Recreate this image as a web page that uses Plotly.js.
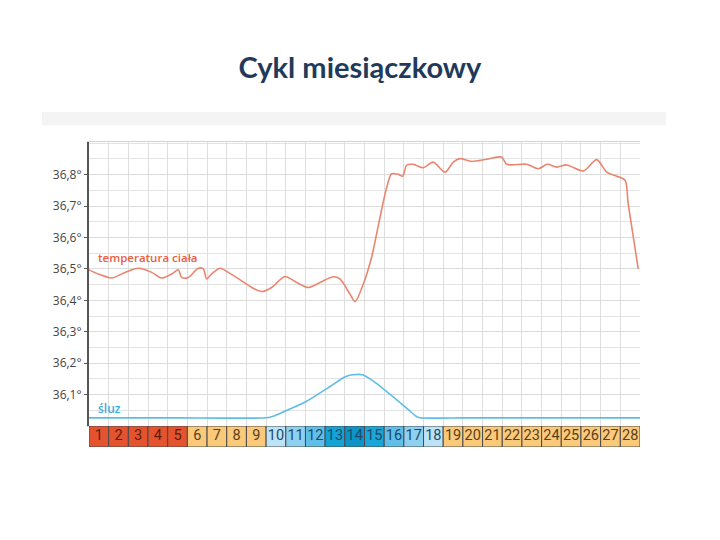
<!DOCTYPE html>
<html>
<head>
<meta charset="utf-8">
<script src="https://cdn.plot.ly/plotly-3.0.1.min.js"></script>
<style>html,body{margin:0;padding:0;background:#fff;}#chart{width:720px;height:540px;}</style>
</head>
<body>
<div id="chart"></div>
<script>
// ---- data ----
const days = [1,2,3,4,5,6,7,8,9,10,11,12,13,14,15,16,17,18,19,20,21,22,23,24,25,26,27,28];
const yTickVals = [36.1,36.2,36.3,36.4,36.5,36.6,36.7,36.8];
const yTickText = ["36,1°","36,2°","36,3°","36,4°","36,5°","36,6°","36,7°","36,8°"];

const tempX = [0,0.47,1.15,1.83,2.51,3.19,3.69,4.20,4.54,4.71,5.05,5.55,5.81,5.98,6.23,6.66,7.08,7.76,8.27,8.78,9.28,9.96,10.55,11.14,11.74,12.41,12.75,13.26,13.52,13.94,14.36,14.79,15.13,15.38,15.72,15.94,16.14,16.48,16.99,17.49,18.09,18.51,18.85,19.45,20.21,20.97,21.23,22.24,22.83,23.29,23.77,24.28,25.12,25.80,26.31,26.82,27.24,27.40,27.91];
const tempY = [36.497,36.484,36.471,36.489,36.502,36.489,36.471,36.484,36.497,36.473,36.473,36.502,36.500,36.468,36.484,36.502,36.489,36.462,36.441,36.428,36.441,36.476,36.457,36.441,36.457,36.475,36.468,36.420,36.396,36.452,36.537,36.665,36.760,36.803,36.801,36.795,36.830,36.833,36.822,36.840,36.808,36.840,36.851,36.842,36.849,36.856,36.833,36.833,36.819,36.833,36.824,36.831,36.812,36.848,36.808,36.795,36.782,36.707,36.500];

const mucusX = [0,4.5,9.03,9.36,11.06,12.08,13.0,13.4,13.9,14.45,16.14,16.6,16.82,19,22.5,28];
const mucusY = [36.026,36.026,36.026,36.031,36.079,36.119,36.156,36.163,36.163,36.143,36.057,36.032,36.026,36.026,36.026,36.026];

const tempLabel = "temperatura ciała";
const mucusLabel = "śluz";
const titleText = "Cykl miesiączkowy";

// ---- styles ----
const boxColors = ["#e4532e","#e4532e","#e4532e","#e4532e","#e4532e",
  "#fbc97a","#fbc97a","#fbc97a","#fbc97a",
  "#bde3f6","#8ed0f0","#5fbfe8","#13a3d6","#0c93c8","#1aa6d8","#5fbfe8","#8ed0f0","#bde3f6",
  "#fbc97a","#fbc97a","#fbc97a","#fbc97a","#fbc97a","#fbc97a","#fbc97a","#fbc97a","#fbc97a","#fbc97a"];
const boxTextColors = boxColors.map(c => c === "#e4532e" ? "#5b2010" : (c === "#fbc97a" ? "#5a4020" : "#1d4a68"));

const traces = [
  {
    type: "scatter", mode: "lines", x: tempX, y: tempY,
    line: {color: "#ea8670", width: 1.6, shape: "spline", smoothing: 0.8},
    hoverinfo: "skip", showlegend: false
  },
  {
    type: "scatter", mode: "lines", x: mucusX, y: mucusY,
    line: {color: "#5cbde6", width: 1.6, shape: "spline", smoothing: 0.5},
    hoverinfo: "skip", showlegend: false
  },
  {
    type: "bar", x: days.map(d => d - 0.5), y: days.map(() => 1), width: 1,
    yaxis: "y2",
    marker: {color: boxColors, line: {color: "#4a4a4a", width: 1}},
    hoverinfo: "skip", showlegend: false
  },
  {
    type: "scatter", mode: "text", x: days.map(d => d - 0.5), y: days.map(() => 0.5),
    yaxis: "y2", text: days.map(String), textposition: "middle center",
    textfont: {family: "Liberation Sans Narrow, Roboto, sans-serif", size: 14.5, color: boxTextColors},
    hoverinfo: "skip", showlegend: false, cliponaxis: false
  }
];

const layout = {
  width: 720, height: 540,
  margin: {l: 89, r: 80, t: 142, b: 93},
  paper_bgcolor: "#ffffff", plot_bgcolor: "#ffffff",
  showlegend: false,
  title: {
    text: "<b>" + titleText + "</b>",
    font: {family: "Lato, Open Sans, sans-serif", size: 29, color: "#1f3a5a"},
    x: 0.5, xref: "container", xanchor: "center",
    y: 1 - 68/540, yref: "container", yanchor: "middle"
  },
  xaxis: {
    range: [0, 28], tick0: 0, dtick: 1,
    showticklabels: false, ticks: "",
    showgrid: true, gridcolor: "#dedede", gridwidth: 1,
    zeroline: false, showline: true, linecolor: "#d3d3d3", linewidth: 1, mirror: true,
    fixedrange: true
  },
  yaxis: {
    domain: [21/305, 1],
    range: [36.0, 36.904],
    tickmode: "array", tickvals: yTickVals, ticktext: yTickText,
    ticks: "outside", ticklen: 3, tickcolor: "#555", tickwidth: 1,
    tickfont: {family: "Open Sans, sans-serif", size: 12, color: "#444444"},
    showgrid: true, gridcolor: "#dcdcdc", gridwidth: 1,
    minor: {tick0: 36.0, dtick: 0.05, showgrid: true, gridcolor: "#e3e3e3", gridwidth: 1, ticks: ""},
    zeroline: false, showline: true, linecolor: "#555555", linewidth: 2,
    fixedrange: true
  },
  yaxis2: {
    domain: [0, 21/305], range: [0, 1],
    showticklabels: false, showgrid: false, zeroline: false, ticks: "",
    fixedrange: true
  },
  bargap: 0,
  annotations: [
    {x: 0.36, y: 36.537, xref: "x", yref: "y", text: tempLabel, showarrow: false,
     xanchor: "left", yanchor: "middle",
     font: {family: "Open Sans, sans-serif", size: 11.5, weight: 600, color: "#e8603f"}},
    {x: 0.36, y: 36.057, xref: "x", yref: "y", text: mucusLabel, showarrow: false,
     xanchor: "left", yanchor: "middle",
     font: {family: "Open Sans, sans-serif", size: 12, weight: 600, color: "#3aaee0"}}
  ],
  shapes: [
    {type: "rect", xref: "paper", yref: "paper", x0: -0.0853, x1: 1.047, y0: 1.0548, y1: 1.098,
     fillcolor: "#f4f4f4", line: {width: 0}, layer: "below"}
  ]
};

Plotly.newPlot("chart", traces, layout, {staticPlot: true, displayModeBar: false});
</script>
</body>
</html>
